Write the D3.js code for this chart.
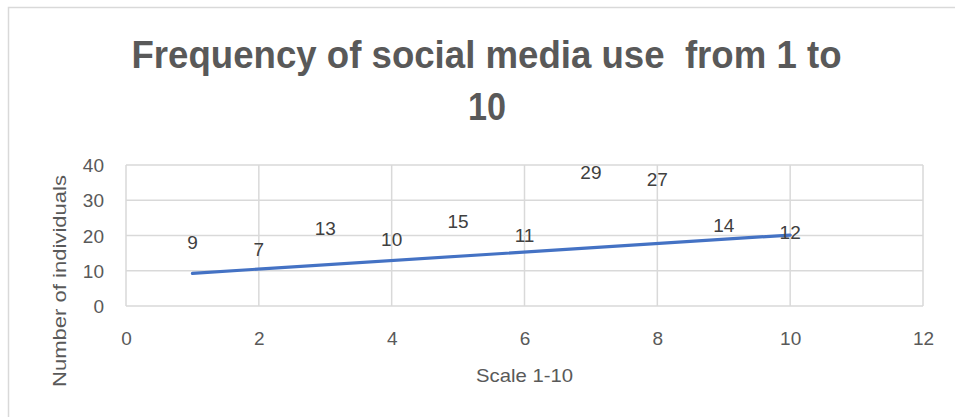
<!DOCTYPE html>
<html>
<head>
<meta charset="utf-8">
<script src="https://cdn.jsdelivr.net/npm/d3@7"></script>
<style>
  html, body { margin: 0; padding: 0; background: #fff; }
  svg { display: block; }
  text { font-family: "Liberation Sans", Arial, sans-serif; }
</style>
</head>
<body>
<svg id="chart" width="955" height="417"></svg>
<script>
// ---- data ----
const scaleValues = [1, 2, 3, 4, 5, 6, 7, 8, 9, 10];
const individuals = [9, 7, 13, 10, 15, 11, 29, 27, 14, 12];
const xTicks = [0, 2, 4, 6, 8, 10, 12];
const yTicks = [0, 10, 20, 30, 40];
const titleLines = ["Frequency of social media use  from 1 to", "10"];
const xAxisTitle = "Scale 1-10";
const yAxisTitle = "Number of individuals";

const svg = d3.select("#chart");

// chart border (top + left visible)
svg.append("rect").attr("x", 8.5).attr("y", 7.5).attr("width", 960).attr("height", 420)
  .attr("fill", "#fff").attr("stroke", "#d9d9d9").attr("stroke-width", 1.5);

const pLeft = 126, pRight = 923, pTop = 165, pBottom = 306;
const x = d3.scaleLinear().domain([0, 12]).range([pLeft, pRight]);
const y = d3.scaleLinear().domain([0, 40]).range([pBottom, pTop]);

// gridlines
const grid = svg.append("g");
grid.selectAll("line.h").data(yTicks).join("line").attr("class", "h")
  .attr("x1", pLeft).attr("x2", pRight)
  .attr("y1", d => y(d)).attr("y2", d => y(d))
  .attr("stroke", "#d9d9d9").attr("stroke-width", 1.5);
grid.selectAll("line.v").data(xTicks).join("line").attr("class", "v")
  .attr("y1", pTop).attr("y2", pBottom)
  .attr("x1", d => x(d)).attr("x2", d => x(d))
  .attr("stroke", "#d9d9d9").attr("stroke-width", 1.5);

// axes (labels only)
const xAxis = d3.axisBottom(x).tickValues(xTicks).tickSize(0).tickPadding(0);
const gx = svg.append("g").attr("transform", `translate(0,${pBottom})`).call(xAxis);
gx.select(".domain").remove();
gx.selectAll("text").attr("y", 39).attr("dy", null)
  .attr("font-size", 19).attr("fill", "#595959")
  .attr("font-family", '"Liberation Sans", Arial, sans-serif');

const yAxis = d3.axisLeft(y).tickValues(yTicks).tickSize(0).tickPadding(0);
const gy = svg.append("g").attr("transform", `translate(${pLeft},0)`).call(yAxis);
gy.select(".domain").remove();
gy.selectAll("text").attr("x", -22).attr("dy", "0.35em")
  .attr("font-size", 19).attr("fill", "#595959")
  .attr("font-family", '"Liberation Sans", Arial, sans-serif');

// linear trendline (least squares from data)
const n = scaleValues.length;
const mx = d3.mean(scaleValues), my = d3.mean(individuals);
let sxy = 0, sxx = 0;
for (let i = 0; i < n; i++) {
  sxy += (scaleValues[i] - mx) * (individuals[i] - my);
  sxx += (scaleValues[i] - mx) ** 2;
}
const slope = sxy / sxx, intercept = my - slope * mx;
const xs = d3.extent(scaleValues);
svg.append("line")
  .attr("x1", x(xs[0])).attr("y1", y(intercept + slope * xs[0]))
  .attr("x2", x(xs[1])).attr("y2", y(intercept + slope * xs[1]))
  .attr("stroke", "#4472C4").attr("stroke-width", 3.2).attr("stroke-linecap", "round");

// data labels (markers hidden)
svg.append("g").selectAll("text").data(scaleValues).join("text")
  .attr("x", d => x(d))
  .attr("y", (d, i) => y(individuals[i]) - 25)
  .attr("text-anchor", "middle")
  .attr("font-size", 19).attr("fill", "#404040")
  .text((d, i) => individuals[i]);

// title
const tl = svg.append("g").attr("font-weight", "bold").attr("fill", "#595959").attr("font-size", 39);
tl.append("text").attr("x", 486.5).attr("y", 68).attr("text-anchor", "middle")
  .attr("textLength", 710).attr("lengthAdjust", "spacingAndGlyphs")
  .style("white-space", "pre").text(titleLines[0]);
tl.append("text").attr("x", 487).attr("y", 120).attr("text-anchor", "middle")
  .attr("textLength", 38).attr("lengthAdjust", "spacingAndGlyphs")
  .text(titleLines[1]);

// axis titles
svg.append("text").attr("x", 524.5).attr("y", 382).attr("text-anchor", "middle")
  .attr("font-size", 19).attr("fill", "#595959")
  .attr("textLength", 97).attr("lengthAdjust", "spacingAndGlyphs").text(xAxisTitle);
svg.append("text").attr("transform", "translate(66,281) rotate(-90)").attr("text-anchor", "middle")
  .attr("font-size", 19).attr("fill", "#595959")
  .attr("textLength", 212).attr("lengthAdjust", "spacingAndGlyphs").text(yAxisTitle);
</script>
</body>
</html>
